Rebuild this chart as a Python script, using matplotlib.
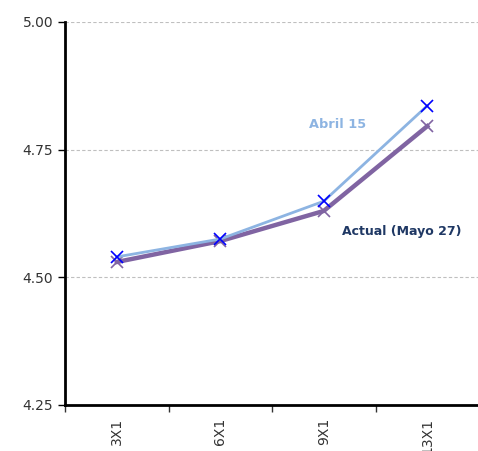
import matplotlib.pyplot as plt
from matplotlib.ticker import MultipleLocator, FixedLocator

# Tasas por plazo
plazos = ["3X1", "6X1", "9X1", "13X1"]
abril_15 = [4.540, 4.575, 4.649, 4.836]
actual_mayo_27 = [4.530, 4.571, 4.630, 4.796]

plt.rcParams['font.family'] = ['DejaVu Sans']

fig = plt.figure(figsize=(4.78, 4.51), dpi=100)
ax = fig.add_axes([65 / 478, 1 - 405 / 451, 414 / 478, 383 / 451])

x = list(range(len(plazos)))
ax.plot(x, abril_15, color="#8DB4E2", lw=2, marker="x", ms=8.5,
        mec="#0000FF", mew=1.2, zorder=3)
ax.plot(x, actual_mayo_27, color="#8064A2", lw=3.2, marker="x", ms=8.5,
        mec="#8064A2", mew=1.2, zorder=2)

ax.text(2.13, 4.80, "Abril 15", color="#8DB4E2", fontsize=9.3,
        fontweight="bold", ha="center", va="center")
ax.text(2.75, 4.589, "Actual (Mayo 27)", color="#1F3864", fontsize=9,
        fontweight="bold", ha="center", va="center")

ax.set_xlim(-0.5, 3.5)
ax.set_ylim(4.25, 5.0)
ax.yaxis.set_major_locator(MultipleLocator(0.25))
ax.yaxis.set_major_formatter(plt.FormatStrFormatter("%.2f"))
ax.grid(axis="y", color="#BFBFBF", ls=(0, (3, 2)), lw=0.8)
ax.set_axisbelow(True)

ax.set_xticks(x)
ax.set_xticklabels(plazos, rotation=90, fontsize=10, color="#333333")
ax.tick_params(axis="x", which="major", length=0, pad=9)
ax.xaxis.set_minor_locator(FixedLocator([-0.5, 0.5, 1.5, 2.5, 3.5]))
ax.tick_params(axis="x", which="minor", length=5, width=1, color="#333333")
ax.tick_params(axis="y", length=5, width=1, labelsize=10, labelcolor="#333333")

for side in ("top", "right"):
    ax.spines[side].set_visible(False)
for side in ("left", "bottom"):
    ax.spines[side].set_linewidth(2)

fig.savefig("out.png", dpi=100)
